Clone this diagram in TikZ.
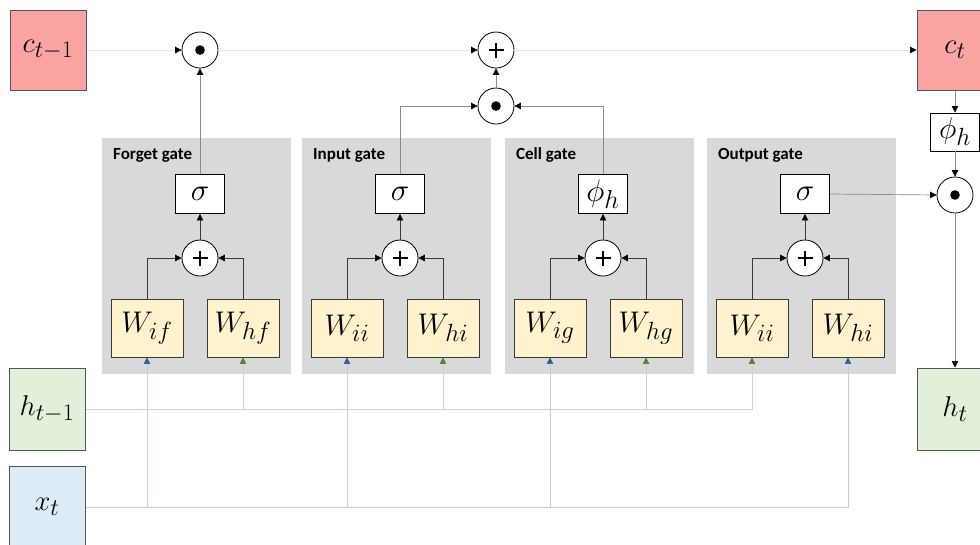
\documentclass[tikz,border=0pt]{standalone}
\usepackage{fontspec}
\newfontfamily\gatefont{Carlito}
\usetikzlibrary{arrows.meta}
% enlarged math labels (math fonts stop at 24.88pt, so scale beyond that)
\newcommand\bigmath[2]{\scalebox{#1}{$#2$}}
\definecolor{cellred}{HTML}{F9A3A3}
\definecolor{hidgreen}{HTML}{E2EFDA}
\definecolor{inblue}{HTML}{DDEBF7}
\definecolor{wyellow}{HTML}{FFF2CC}
\definecolor{panelgray}{HTML}{D9D9D9}
\definecolor{statebd}{HTML}{555555}
\definecolor{tipgreen}{HTML}{548235}
\definecolor{tipblue}{HTML}{2E5F94}
\definecolor{hline}{HTML}{C9D6C2}
\definecolor{xline}{HTML}{C3CDD8}
\definecolor{cline}{HTML}{E3E3E3}
\definecolor{gline}{HTML}{8A8A8A}
\definecolor{innerline}{HTML}{3A3A3A}
\tikzset{
  arr/.style={-{Triangle[length=6.5pt,width=6.5pt,color=black]}},
  panel/.style={fill=panelgray, draw=none},
  wbox/.style={draw=innerline, line width=0.9pt, fill=wyellow, minimum width=72pt,
    minimum height=58pt, inner sep=0pt, font=\fontsize{24.88}{28}\selectfont},
  actbox/.style={draw=black, line width=0.9pt, fill=white, minimum width=49pt,
    minimum height=39pt, inner sep=0pt, font=\fontsize{24.88}{28}\selectfont},
  op/.style={circle, draw=black, line width=0.8pt, fill=white, minimum size=36pt,
    inner sep=0pt},
  statebox/.style={draw=statebd, line width=1pt, minimum width=76pt,
    minimum height=80pt, inner sep=0pt, font=\fontsize{24.88}{28}\selectfont},
  title/.style={anchor=west, inner sep=0pt, font=\gatefont\bfseries\fontsize{17}{19}\selectfont},
  innerarr/.style={arr, draw=innerline, line width=0.8pt},
  gatearr/.style={arr, draw=gline, line width=0.7pt},
  cellarr/.style={arr, draw=cline, line width=0.7pt},
  harr/.style={-{Triangle[length=6.5pt,width=6.5pt,color=tipgreen]}, draw=hline, line width=0.7pt},
  xarr/.style={-{Triangle[length=6.5pt,width=6.5pt,color=tipblue]}, draw=xline, line width=0.7pt},
  opsign/.style={line width=1.3pt, draw=black},
}
\begin{document}
\begin{tikzpicture}[x=1pt,y=-1pt]
\useasboundingbox (0,0) rectangle (980,544);

% states
\node[statebox, fill=cellred] (cprev) at (48,50) {\bigmath{1.15}{c_{t-1}}};
\node[statebox, fill=cellred] (ct) at (955,50) {\bigmath{1.15}{c_t}};
\node[statebox, fill=hidgreen, minimum height=82pt] (hprev) at (47,409) {\bigmath{1.15}{h_{t-1}}};
\node[statebox, fill=hidgreen, minimum height=82pt] (ht) at (955,409) {\bigmath{1.15}{h_t}};
\node[statebox, fill=inblue, minimum height=82pt] (xt) at (47,507) {\bigmath{1.15}{x_t}};

% gates
\foreach \g/\L/\name/\act/\wa/\wb in {
  f/102/Forget gate/\sigma/W_{if}/W_{hf},
  i/302/Input gate/\sigma/W_{ii}/W_{hi},
  g/505/Cell gate/\phi_h/W_{ig}/W_{hg},
  o/707/Output gate/\sigma/W_{ii}/W_{hi}}{
  \fill[panel] (\L,138) rectangle ++(189,236);
  \node[title] (\g title) at (\L+11,155) {\name};
  \node[actbox] (\g act) at (\L+98,194) {\bigmath{1.25}{\act}};
  \node[op] (\g sum) at (\L+98,258) {};
  \node[wbox] (\g W1) at (\L+45,328) {\bigmath{1.2}{\wa}};
  \node[wbox] (\g W2) at (\L+141,328) {\bigmath{1.2}{\wb}};
  \draw[innerarr] (\g W1.north) |- (\g sum.west);
  \draw[innerarr] (\g W2.north) |- (\g sum.east);
  \draw[innerarr] (\g sum.north) -- (\g act.south);
}

% cell state operations
\node[op] (fmul) at (200,50) {};
\node[op] (cadd) at (496,50) {};
\node[op] (imul) at (496,106) {};
\node[actbox, minimum height=38pt] (phi) at (955,132) {\bigmath{1.2}{\phi_h}};
\node[op] (hmul) at (955,195) {};

% operator symbols
\foreach \n in {fmul,imul,hmul} \fill (\n) circle (4.8);
\foreach \n in {fsum,isum,gsum,osum,cadd}
  \draw[opsign] (\n) ++(-7.5,0) -- ++(15,0) (\n) ++(0,-7.5) -- ++(0,15);

\draw[cellarr] (cprev.east) -- (fmul.west);
\draw[cellarr] (fmul.east) -- (cadd.west);
\draw[cellarr] (cadd.east) -- (ct.west);
\draw[gatearr] (fact.north) -- (fmul.south);
\draw[gatearr] (iact.north) |- (imul.west);
\draw[gatearr] (gact.north) |- (imul.east);
\draw[gatearr] (imul.north) -- (cadd.south);
\draw[gatearr] (oact.east) -- (hmul.west);
\draw[gatearr] (ct.south) -- (phi.north);
\draw[gatearr] (phi.south) -- (hmul.north);
\draw[gatearr] (hmul.south) -- (ht.north);

% inputs into the weight boxes
\draw[xarr] (xt.east) -| (oW2.south);
\foreach \n in {fW1,iW1,gW1} \draw[xarr] (\n.south |- xt.east) -- (\n.south);
\draw[harr] (hprev.east) -| (oW1.south);
\foreach \n in {fW2,iW2,gW2} \draw[harr] (\n.south |- hprev.east) -- (\n.south);
\end{tikzpicture}
\end{document}
